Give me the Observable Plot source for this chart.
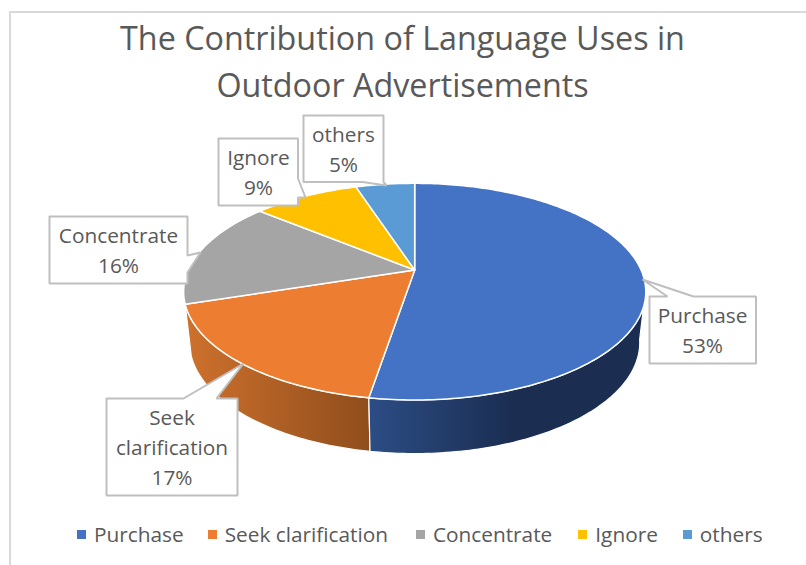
<!DOCTYPE html>
<html>
<head>
<meta charset="utf-8">
<script src="https://cdn.jsdelivr.net/npm/d3@7"></script>
<script src="https://cdn.jsdelivr.net/npm/@observablehq/plot@0.6"></script>
<style>
  html, body { margin: 0; padding: 0; background: #fff; }
  body { width: 806px; height: 565px; position: relative; overflow: hidden; font-family: "Open Sans", "Noto Sans", sans-serif; color: #595959; }
  #frame { position: absolute; left: 9px; top: 11px; width: 800px; height: 560px; border: 2px solid #d9d9d9; box-sizing: border-box; }
  #title { position: absolute; left: 0; top: 14px; width: 806px; text-align: center; font-size: 32.3px; line-height: 47px; padding-right: 1px; box-sizing: border-box; }
  #chart { position: absolute; left: 0; top: 110px; }
  #chart svg { background: transparent; display: block; }
  #legend { position: absolute; left: 77px; top: 519px; display: flex; font-size: 20.8px; line-height: 30px; white-space: nowrap; }
  #legend .item { display: flex; align-items: center; }
  #legend .sw { width: 9px; height: 9px; margin-right: 8px; display: inline-block; }
</style>
</head>
<body>
<div id="frame"></div>
<div id="title">The Contribution of Language Uses in<br>Outdoor Advertisements</div>
<div id="chart"></div>
<div id="legend"></div>
<script>
// ---- data ----
const categories = ["Purchase", "Seek clarification", "Concentrate", "Ignore", "others"];
const shares = [52.6, 17.4, 16, 9, 5];
const colors = ["#4472c4", "#ed7d31", "#a5a5a5", "#ffc000", "#5b9bd5"];
const legendGaps = [24, 28, 26, 25, 0];

// ---- perspective model of the pie, in page pixels ----
const cx = 414.2, P = 0.2;
const topFace = {A: 226.4, B: 104, cy: 269.5};
const baseFace = {A: 220.5, B: 106.6, cy: 319.8};
const project = (face, deg) => {
  const t = deg * Math.PI / 180, u = Math.sin(t), v = -Math.cos(t), d = 1 - P * v;
  return {x: cx + face.A * u / d, y: face.cy + face.B * v / d};
};
const cumulative = d3.cumsum(shares);
const total = d3.sum(shares);
const startDeg = i => (i === 0 ? 0 : cumulative[i - 1]) / total * 360;
const endDeg = i => cumulative[i] / total * 360;
const arc = (face, a, b) => {
  const n = Math.max(2, Math.ceil(Math.abs(b - a)));
  return d3.range(n + 1).map(k => project(face, a + (b - a) * k / n));
};

const slices = categories.flatMap((category, i) => {
  const apex = {x: cx, y: topFace.cy};
  return [apex, ...arc(topFace, startDeg(i), endDeg(i)), apex].map(p => ({...p, category}));
});
const silhouetteStart = 100;
const sideOf = (a, b) => {
  const s = [...arc(topFace, a, b), ...arc(baseFace, b, a)];
  return [...s, s[0]];
};
const sideBlue = sideOf(silhouetteStart, endDeg(0));
const sideOrange = sideOf(endDeg(0), endDeg(1));

// ---- callouts: box, pointer and label layout ----
const box = (l, t, r, b, pointer, side) => {
  const tl = [l, t], tr = [r, t], br = [r, b], bl = [l, b];
  const pts = side === "top" ? [tl, ...pointer, tr, br, bl, tl]
    : side === "right" ? [tl, tr, ...pointer, br, bl, tl]
    : [tl, tr, br, ...pointer, bl, tl];
  return pts;
};
const callouts = [
  {i: 0, x: 702, y: 328, pts: box(649, 296, 755.5, 363, [[667, 296], [642, 279], [693, 296]], "top")},
  {i: 1, x: 171.5, y: 445, name: "Seek\nclarification", pts: box(106, 398, 237, 495, [[183, 398], [243, 363], [216, 398]], "top")},
  {i: 2, x: 118, y: 248, pts: box(49, 216, 187, 283, [[187, 255], [200, 252], [187, 272]], "right")},
  {i: 3, x: 258, y: 170, pts: box(218, 138, 297.5, 205, [[297.5, 178], [305, 197], [297.5, 197]], "right")},
  {i: 4, x: 343, y: 147, pts: box(303, 115, 383, 181.5, [[386, 185], [362, 181.5]], "bottom")}
];
const calloutLines = callouts.flatMap(c => c.pts.map(([x, y]) => ({x, y, key: categories[c.i]})));
const calloutLabels = callouts.map(c => ({
  x: c.x, y: c.y,
  text: `${c.name ?? categories[c.i]}\n${Math.round(shares[c.i])}%`
}));

// ---- gradient definitions for the shaded rim ----
const defs = () => {
  const ns = "http://www.w3.org/2000/svg";
  const el = document.createElementNS(ns, "defs");
  const grad = (id, x1, x2, from, to) => {
    const g = document.createElementNS(ns, "linearGradient");
    g.setAttribute("id", id);
    g.setAttribute("gradientUnits", "userSpaceOnUse");
    g.setAttribute("x1", x1); g.setAttribute("x2", x2);
    g.setAttribute("y1", 0); g.setAttribute("y2", 0);
    [[0, from], [1, to]].forEach(([o, c]) => {
      const s = document.createElementNS(ns, "stop");
      s.setAttribute("offset", o); s.setAttribute("stop-color", c);
      g.appendChild(s);
    });
    el.appendChild(g);
  };
  grad("rimOrange", 190, 371, "#cc702c", "#8f4d1c");
  grad("rimBlue", 371, 510, "#2c4c84", "#1b2e52");
  return el;
};

const plot = Plot.plot({
  width: 806,
  height: 405,
  margin: 0,
  x: {domain: [0, 806], range: [0, 806], axis: null},
  y: {domain: [110, 515], range: [0, 405], axis: null},
  color: {type: "ordinal", domain: categories, range: colors},
  style: {background: "transparent", fontFamily: "'Open Sans', 'Noto Sans', sans-serif"},
  marks: [
    defs,
    Plot.line(sideOrange, {x: "x", y: "y", fill: "url(#rimOrange)", stroke: "white", strokeWidth: 1.2}),
    Plot.line(sideBlue, {x: "x", y: "y", fill: "url(#rimBlue)", stroke: "white", strokeWidth: 1.2}),
    Plot.line(slices, {x: "x", y: "y", z: "category", fill: "category", stroke: "white", strokeWidth: 1.5, strokeLinejoin: "round"}),
    Plot.line(calloutLines, {x: "x", y: "y", z: "key", fill: "white", stroke: "#bfbfbf", strokeWidth: 2, strokeLinejoin: "miter"}),
    Plot.text(calloutLabels, {x: "x", y: "y", text: "text", fontSize: 20.8, lineHeight: 1.45, fill: "#595959", textAnchor: "middle"})
  ]
});
document.getElementById("chart").appendChild(plot);

// ---- legend ----
const legend = d3.select("#legend");
categories.forEach((c, i) => {
  const item = legend.append("div").attr("class", "item").style("margin-right", legendGaps[i] + "px");
  item.append("span").attr("class", "sw").style("background", colors[i]);
  item.append("span").text(c);
});
</script>
</body>
</html>
